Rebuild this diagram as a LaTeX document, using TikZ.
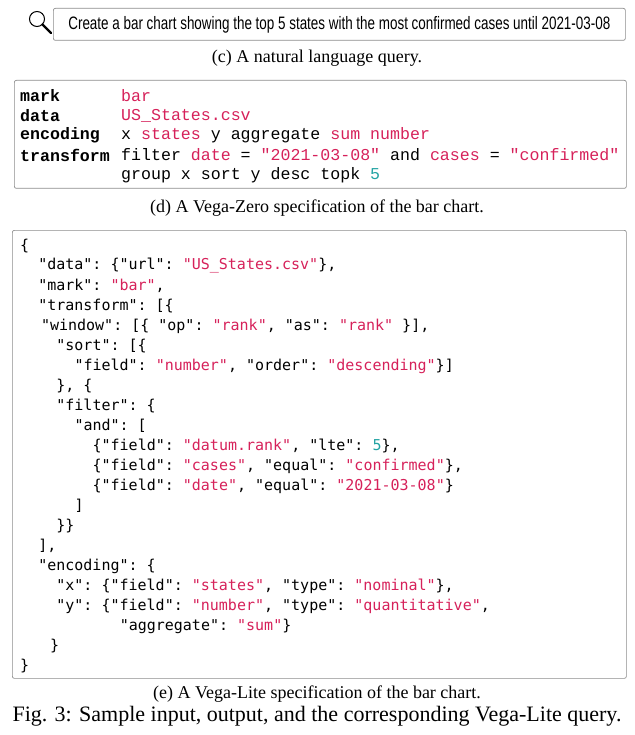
\documentclass[tikz,border=0pt]{standalone}
\usepackage{fontspec}
\setmainfont{Liberation Serif}
\setmonofont{DejaVu Sans Mono}
\newfontfamily\qfont{Liberation Sans}
\newfontfamily\zfont{Liberation Mono}
\definecolor{vr}{HTML}{D6215A}
\definecolor{vt}{HTML}{23A3A3}
\newcommand\R[1]{\textcolor{vr}{#1}}
\newcommand\T[1]{\textcolor{vt}{#1}}
\newcommand\jl[4]{\node[jl] (#1) at ({20+9.05*#2},#3) {#4};}
\newcommand\zl[4]{\node[zl] (#1k) at (20,#2) {\textbf{#3}}; \node[zl] (#1v) at (121,#2) {#4};}
\begin{document}
\begin{tikzpicture}[x=1pt,y=-1pt,
  box/.style={draw=black!45,rounded corners=2pt,line width=0.7pt},
  jl/.style={anchor=west,inner sep=0pt,font=\fontsize{15}{15}\ttfamily},
  zl/.style={anchor=west,inner sep=0pt,font=\fontsize{16.6}{16.6}\zfont},
  captext/.style={inner sep=0pt,font=\fontsize{18}{18}\selectfont}]
\useasboundingbox (0,0) rectangle (634,735);
% magnifier
\draw[line width=1pt] (37,19) circle (7.5);
\draw[line width=2.4pt,line cap=round] (42.5,24.5) -- (51,33);
\node[box,minimum width=572,minimum height=32,anchor=north west,inner sep=0pt] (q) at (53,8) {};
\node[inner sep=0pt,font=\fontsize{18}{18}\qfont] (qt) at (q.center) {\resizebox{542pt}{\height}{Create a bar chart showing the top 5 states with the most confirmed cases until 2021-03-08}};
\node[captext] (c) at (317,58) {(c) A natural language query.};
% vega-zero
\node[box,minimum width=612,minimum height=108,anchor=north west,inner sep=0pt] (d) at (14,80) {};
\zl{a}{96}{mark}{\R{bar}}
\zl{b}{115.5}{data}{\R{US\_States.csv}}
\zl{e}{135}{encoding}{x \R{states} y aggregate \R{sum number}}
\zl{f}{155}{transform}{filter \R{date} = \R{"2021-03-08"} and \R{cases} = \R{"confirmed"}}
\node[zl] (g) at (121,175) {group x sort y desc topk \T{5}};
\node[captext] (dc) at (317,208) {(d) A Vega-Zero specification of the bar chart.};
% vega-lite
\node[box,minimum width=614,minimum height=448,anchor=north west,inner sep=0pt] (vl) at (12,230) {};
\jl{l1}{0}{246}{\{}
\jl{l2}{2}{266}{"data": \{"url": \R{"US\_States.csv"}\},}
\jl{l3}{2}{286}{"mark": \R{"bar"},}
\jl{l4}{2}{306}{"transform": [\{}
\jl{l5}{2.3}{326}{"window": [\{ "op": \R{"rank"}, "as": \R{"rank"} \}],}
\jl{l6}{4}{346}{"sort": [\{}
\jl{l7}{6}{366}{"field": \R{"number"}, "order": \R{"descending"}\}]}
\jl{l8}{4}{386}{\}, \{}
\jl{l9}{4}{406}{"filter": \{}
\jl{l10}{6}{426}{"and": [}
\jl{l11}{8}{446}{\{"field": \R{"datum.rank"}, "lte": \T{5}\},}
\jl{l12}{8}{466}{\{"field": \R{"cases"}, "equal": \R{"confirmed"}\},}
\jl{l13}{8}{486}{\{"field": \R{"date"}, "equal": \R{"2021-03-08"}\}}
\jl{l14}{6}{506}{]}
\jl{l15}{4}{526}{\}\}}
\jl{l16}{2}{546}{],}
\jl{l17}{2}{566}{"encoding": \{}
\jl{l18}{4}{586}{"x": \{"field": \R{"states"}, "type": \R{"nominal"}\},}
\jl{l19}{4}{606}{"y": \{"field": \R{"number"}, "type": \R{"quantitative"},}
\jl{l20}{11}{626}{"aggregate": \R{"sum"}\}}
\jl{l21}{3.3}{646}{\}}
\jl{l22}{0}{666}{\}}
\node[captext] (ec) at (317,694) {(e) A Vega-Lite specification of the bar chart.};
\node[inner sep=0pt,font=\fontsize{22}{22}\selectfont] (fig) at (317,716) {Fig. 3: Sample input, output, and the corresponding Vega-Lite query.};
\end{tikzpicture}
\end{document}
